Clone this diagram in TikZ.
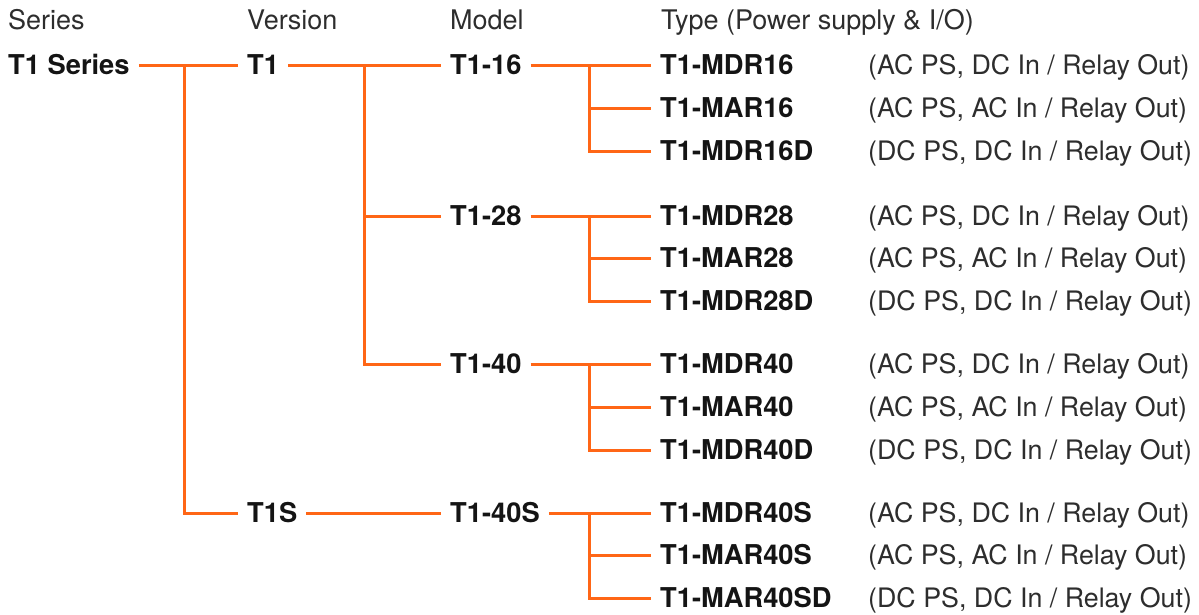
\documentclass[tikz,border=0pt]{standalone}
\usepackage{fontspec}
\setmainfont{TeX Gyre Heros}
\definecolor{branch}{RGB}{255,102,22}
\definecolor{ink}{RGB}{20,20,20}
\definecolor{headink}{RGB}{45,45,45}
\tikzset{
  lbl/.style={anchor=west, inner xsep=9pt, inner ysep=0pt, text height=18pt, text depth=0pt,
              font=\fontsize{27.3}{30}\selectfont\bfseries, text=ink},
  desc/.style={anchor=west, inner xsep=0pt, inner ysep=0pt, text height=18pt, text depth=0pt,
              font=\fontsize{26.8}{30}\selectfont, text=headink},
  head/.style={desc, font=\fontsize{27}{30}\selectfont},
  conn/.style={draw=branch, line width=3pt}
}
\begin{document}
\begin{tikzpicture}[x=1pt,y=-1pt]
\useasboundingbox (0,0) rectangle (1199,614);
% headers
\node[head] (hs) at (8,20) {Series};
\node[head] (hv) at (247,20) {Version};
\node[head] (hm) at (450,20) {Model};
\node[head] (ht) at (661,20) {Type (Power supply \& I/O)};
% series / version / model
\node[lbl] (ser) at (-1,65) {T1 Series};
\node[lbl] (v1) at (238,65) {T1};
\node[lbl] (v2) at (238,513) {T1S};
\node[lbl] (m16) at (441,65) {T1-16};
\node[lbl] (m28) at (441,216) {T1-28};
\node[lbl] (m40) at (441,364) {T1-40};
\node[lbl] (m40s) at (441,513) {T1-40S};
% types
\node[lbl] (a1) at (651,65) {T1-MDR16};
\node[lbl] (a2) at (651,108) {T1-MAR16};
\node[lbl] (a3) at (651,151) {T1-MDR16D};
\node[lbl] (b1) at (651,216) {T1-MDR28};
\node[lbl] (b2) at (651,258) {T1-MAR28};
\node[lbl] (b3) at (651,301) {T1-MDR28D};
\node[lbl] (c1) at (651,364) {T1-MDR40};
\node[lbl] (c2) at (651,407) {T1-MAR40};
\node[lbl] (c3) at (651,450) {T1-MDR40D};
\node[lbl] (d1) at (651,513) {T1-MDR40S};
\node[lbl] (d2) at (651,555) {T1-MAR40S};
\node[lbl] (d3) at (651,598) {T1-MAR40SD};
% descriptions
\node[desc] (da1) at (868,65) {(AC PS, DC In / Relay Out)};
\node[desc] (da2) at (868,108) {(AC PS, AC In / Relay Out)};
\node[desc] (da3) at (868,151) {(DC PS, DC In / Relay Out)};
\node[desc] (db1) at (868,216) {(AC PS, DC In / Relay Out)};
\node[desc] (db2) at (868,258) {(AC PS, AC In / Relay Out)};
\node[desc] (db3) at (868,301) {(DC PS, DC In / Relay Out)};
\node[desc] (dc1) at (868,364) {(AC PS, DC In / Relay Out)};
\node[desc] (dc2) at (868,407) {(AC PS, AC In / Relay Out)};
\node[desc] (dc3) at (868,450) {(DC PS, DC In / Relay Out)};
\node[desc] (dd1) at (868,513) {(AC PS, DC In / Relay Out)};
\node[desc] (dd2) at (868,555) {(AC PS, AC In / Relay Out)};
\node[desc] (dd3) at (868,598) {(DC PS, DC In / Relay Out)};
% junctions
\coordinate (js) at (184,65);
\coordinate (jv) at (364,65);
\coordinate (ja) at (589,65);
\coordinate (jb) at (589,216);
\coordinate (jc) at (589,364);
\coordinate (jd) at (589,513);
% connectors
\draw[conn] (ser.east) -- (v1.west);
\draw[conn] (js) |- (v2.west);
\draw[conn] (v1.east) -- (m16.west);
\draw[conn] (jv) |- (m28.west);
\draw[conn] (jv) |- (m40.west);
\draw[conn] (v2.east) -- (m40s.west);
\draw[conn] (m16.east) -- (a1.west);
\draw[conn] (ja) |- (a2.west);
\draw[conn] (ja) |- (a3.west);
\draw[conn] (m28.east) -- (b1.west);
\draw[conn] (jb) |- (b2.west);
\draw[conn] (jb) |- (b3.west);
\draw[conn] (m40.east) -- (c1.west);
\draw[conn] (jc) |- (c2.west);
\draw[conn] (jc) |- (c3.west);
\draw[conn] (m40s.east) -- (d1.west);
\draw[conn] (jd) |- (d2.west);
\draw[conn] (jd) |- (d3.west);
\end{tikzpicture}
\end{document}
